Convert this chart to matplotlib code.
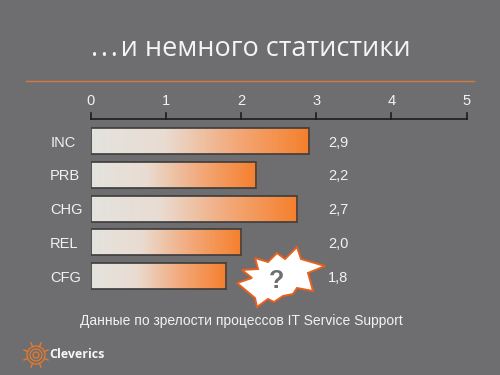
import numpy as np
import matplotlib
matplotlib.use('Agg')
import matplotlib.pyplot as plt
from matplotlib.colors import LinearSegmentedColormap
from matplotlib.patches import Polygon, Circle

processes = ['INC', 'PRB', 'CHG', 'REL', 'CFG']
maturity = [2.9, 2.2, 2.75, 2.0, 1.8]
value_labels = ['2,9', '2,2', '2,7', '2,0', '1,8']
ticks = [0, 1, 2, 3, 4, 5]

BG = '#6e6e70'
W, H = 500, 375

plt.rcParams['font.family'] = ['Liberation Sans', 'DejaVu Sans']

fig = plt.figure(figsize=(W / 100, H / 100), dpi=100, facecolor=BG)

# overlay in pixel coordinates for the slide decorations
deco = fig.add_axes([0, 0, 1, 1], zorder=3)
deco.set_xlim(0, W)
deco.set_ylim(H, 0)
deco.axis('off')

ax = fig.add_axes([90.5 / W, 1 - 293 / H, 376 / W, 174 / H], facecolor='none')
fade = LinearSegmentedColormap.from_list('fade', ['#e4e3de', '#e9dcd2', '#f3a878', '#f57f2c'])
grad = np.linspace(0, 1, 256).reshape(1, -1)

y = np.arange(len(processes))
top = -0.652
bottom = 4.503
half = 0.385
for i, v in enumerate(maturity):
    ax.imshow(grad, extent=[0, v, i + half, i - half], aspect='auto', cmap=fade, zorder=2)
    ax.add_patch(plt.Rectangle((0, i - half), v, 2 * half, fill=False, ec='#3c3c3c', lw=1.2, zorder=3))
    ax.text(3.16, i + 0.05, value_labels[i], color='#f2f2f2', fontsize=10.5, ha='left', va='center')

ax.set_xlim(0, 5)
ax.set_ylim(bottom, top)
ax.xaxis.tick_top()
ax.set_xticks(ticks)
ax.set_yticks(y)
ax.set_yticklabels(processes, ha='left')
ax.tick_params(axis='x', direction='out', length=0, labelsize=10.5, labelcolor='#f2f2f2', pad=8)
ax.tick_params(axis='y', length=0, labelsize=10.5, labelcolor='#f2f2f2', pad=29)
for s in ['left', 'right', 'bottom', 'top']:
    ax.spines[s].set_visible(False)
ax.spines['top'].set_visible(True)
ax.spines['top'].set_color('#1c1c1c')
ax.spines['top'].set_linewidth(1.2)
for t in ticks:
    ax.plot([t, t], [top, top - 0.178], color='#1c1c1c', lw=1.2, clip_on=False, zorder=4)

# title and rule
deco.text(91, 49, '.\u200a.\u200a.\u200aи немного статистики', color='#f4f4f4', fontsize=19.5,
          family=['Open Sans', 'DejaVu Sans'], ha='left', va='center')
deco.plot([26, 474], [81, 81], color='#cf7a3e', lw=1)

# question mark burst
star = [(297, 247), (301, 259), (325, 266), (308, 273), (310, 280), (313, 291),
        (297, 288), (293, 294), (283, 296), (274, 302), (268, 299), (257, 307),
        (255, 298), (237, 283), (252, 278), (242, 270), (258, 269), (255, 258),
        (268, 262), (277, 253), (285, 259)]
deco.add_patch(Polygon(star, closed=True, fc='white', ec='#e8601c', lw=1.4))
deco.text(277, 281, '?', color='#6e6e70', fontsize=18, weight='bold', ha='center', va='center')

deco.text(241, 321, 'Данные по зрелости процессов IT Service Support', color='#f2f2f2',
          fontsize=10, ha='center', va='center')

# logo
cx, cy = 36, 355
for r in [3, 6, 9]:
    deco.add_patch(Circle((cx, cy), r, fill=False, ec='#e8792b', lw=0.9))
for a in np.arange(0, 2 * np.pi, np.pi / 4) + np.pi / 8:
    deco.plot([cx + 9 * np.cos(a), cx + 13 * np.cos(a)], [cy + 9 * np.sin(a), cy + 13 * np.sin(a)],
              color='#e8792b', lw=1)
deco.text(49, 355, 'Cleverics', color='#f6f6f6', fontsize=9, weight='bold',
          family=['Open Sans', 'DejaVu Sans'], ha='left', va='center')

fig.savefig('out.png', dpi=100, facecolor=BG)
